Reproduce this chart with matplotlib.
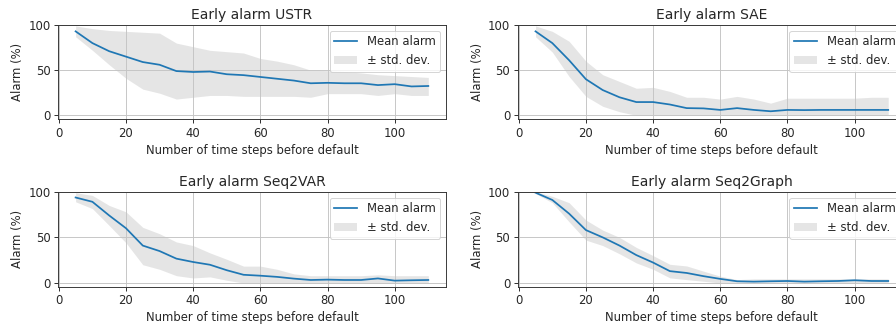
import matplotlib
matplotlib.use("Agg")
from matplotlib import pyplot as plt

# time steps before default
steps = [5, 10, 15, 20, 25, 30, 35, 40, 45, 50, 55, 60, 65, 70, 75, 80, 85, 90, 95, 100, 105, 110]

# USTR
ustr_mean = [93, 80, 71, 65, 59, 56, 49, 48, 48.5, 45.5, 44.5, 42.5, 40.5, 38.5, 35.5, 36, 35.5, 35.5, 33.5, 34.5, 32, 32.5]
ustr_hi = [99, 96, 94, 93, 92, 91, 80, 76, 72, 70.5, 69, 63, 60, 56, 50, 49.5, 48.5, 47, 45, 44, 43, 42]
ustr_lo = [87, 72, 56, 41, 29, 24.5, 18, 20, 22, 22, 21, 21, 21, 21, 20, 24, 24, 24, 22, 24, 22, 22]

# SAE
sae_mean = [93, 80, 61, 40, 28, 20, 14.7, 14.7, 12, 8, 7.7, 6, 8, 6, 4.5, 6, 5.8, 6, 6, 6, 6, 6]
sae_hi = [99, 93, 82, 60, 45, 37.5, 30, 31, 26.5, 20, 20, 18, 21, 18, 13.5, 19, 19, 19, 19, 19, 20, 20]
sae_lo = [87, 70, 43, 21, 10, 4, 0, 0, 0, 0, 0, 0, 0, 0, 0, 0, 0, 0, 0, 0, 0, 0]

# Seq2VAR
s2v_mean = [93.7, 89, 74, 60, 41, 35, 26.7, 23, 20, 14, 9, 8, 6.7, 4.8, 3.3, 3.7, 3.3, 3.3, 5, 2.6, 3, 3.3]
s2v_hi = [99, 96, 85, 78, 61, 54, 45, 41, 33, 26, 18.5, 18.5, 15, 10, 8, 8, 8, 8, 9, 8, 8, 8]
s2v_lo = [89, 81.5, 63, 44, 20, 15, 8, 5.5, 6.7, 3, 0, 0, 0, 0, 0, 0, 0, 0, 0, 0, 0, 0]

# Seq2Graph
s2g_mean = [99, 91, 76, 58, 50, 41, 30.6, 22.4, 13, 11, 7.5, 4.5, 1.9, 1.5, 1.9, 2.2, 1.5, 1.9, 2.2, 3, 2.2, 2.2]
s2g_hi = [100, 95, 88, 69, 58, 50, 39, 30, 20.5, 18.7, 13, 7.5, 3.7, 4.5, 4.5, 4.5, 4.5, 4.5, 4.5, 4.5, 4.5, 4.5]
s2g_lo = [98, 88, 67, 47, 41, 32, 22, 15, 5.6, 3.7, 1.9, 0, 0, 0, 0, 0, 0, 0, 0, 0, 0, 0]

models = ["USTR", "SAE", "Seq2VAR", "Seq2Graph"]
means = [ustr_mean, sae_mean, s2v_mean, s2g_mean]
highs = [ustr_hi, sae_hi, s2v_hi, s2g_hi]
lows = [ustr_lo, sae_lo, s2v_lo, s2g_lo]

# the original looks like a slightly scaled-up render
s = 1.16
plt.rcParams.update({
    "font.size": 10 * s,
    "lines.linewidth": 1.5 * s,
    "axes.linewidth": 0.8 * s,
    "grid.linewidth": 0.8 * s,
    "grid.color": "#c4c4c4",
    "xtick.major.size": 3.5 * s,
    "ytick.major.size": 3.5 * s,
    "xtick.major.width": 0.8 * s,
    "ytick.major.width": 0.8 * s,
    "axes.edgecolor": "#333333",
    "text.color": "#262626",
    "axes.labelcolor": "#262626",
    "xtick.color": "#262626",
    "ytick.color": "#262626",
})

fig = plt.figure(figsize=(896 / 72, 325 / 72), dpi=72)

# right column runs past the edge of the picture, as in the original crop
positions = [
    [0.0647, 0.634, 0.433, 0.289],
    [0.578, 0.634, 0.433, 0.289],
    [0.0647, 0.118, 0.433, 0.292],
    [0.578, 0.118, 0.433, 0.292],
]

for pos, name, m, hi, lo in zip(positions, models, means, highs, lows):
    ax = fig.add_axes(pos)
    ax.plot(steps, m, color="C0", label="Mean alarm")
    ax.fill_between(steps, lo, hi, color="gray", alpha=0.2, lw=0, label="± std. dev.")
    ax.set_title("Early alarm " + name)
    ax.set_xlabel("Number of time steps before default")
    ax.set_ylabel("Alarm (%)")
    ax.set_ylim(-4, 100)
    ax.set_yticks([0, 50, 100])
    ax.set_xticks([0, 20, 40, 60, 80, 100])
    ax.grid(True)
    ax.legend(loc="upper right")

fig.savefig("out.png", dpi=72)
